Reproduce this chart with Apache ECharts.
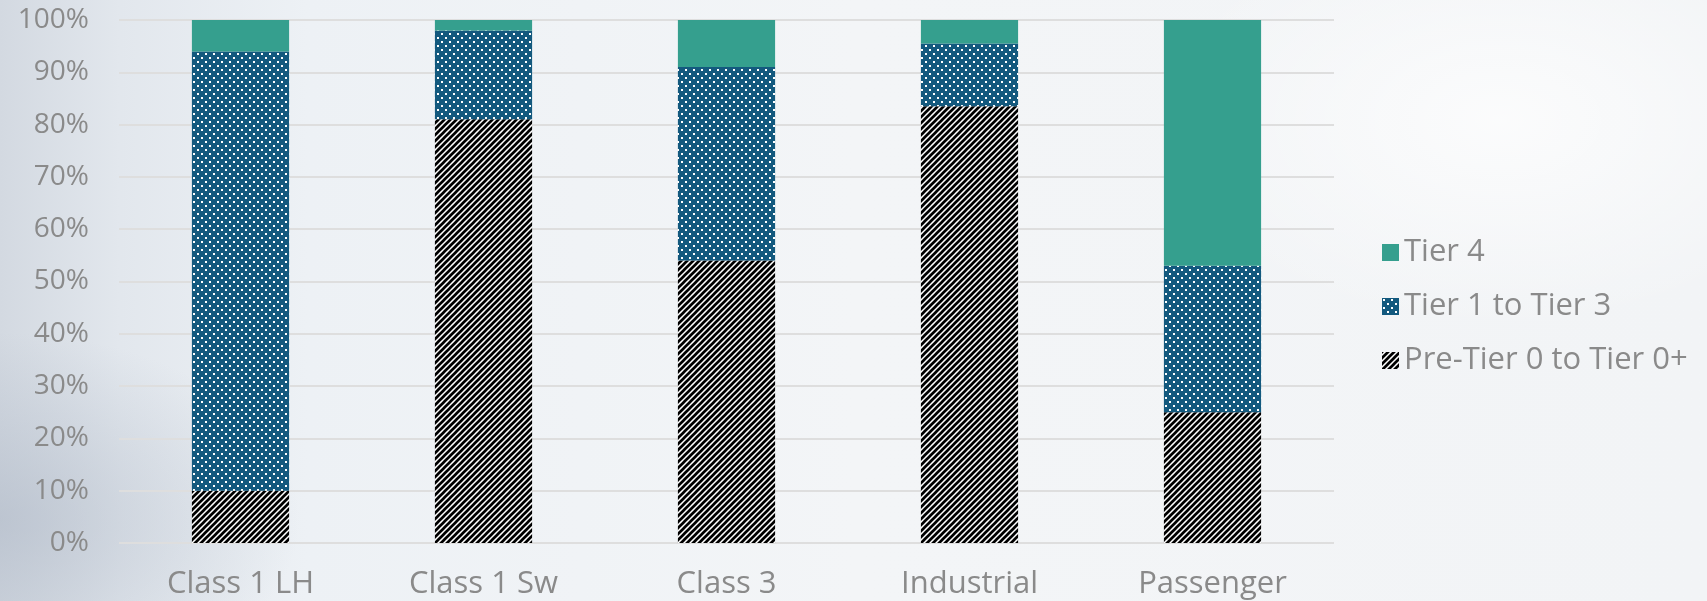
<!DOCTYPE html>
<html>
<head>
<meta charset="utf-8">
<script src="https://cdn.jsdelivr.net/npm/echarts@6/dist/echarts.min.js"></script>
<style>
html,body{margin:0;padding:0;width:1707px;height:601px;overflow:hidden;}
body{background:
 radial-gradient(ellipse 500px 300px at 1500px 120px, rgba(255,255,255,0.7), rgba(255,255,255,0) 70%),
 radial-gradient(ellipse 400px 250px at 0px 520px, rgba(170,180,195,0.55), rgba(170,180,195,0) 75%),
 linear-gradient(to right, #d3d9e1 0%, #e2e7ed 7%, #edf1f5 18%, #f3f5f7 50%, #f2f4f6 100%);}
#chart{width:1707px;height:601px;}
</style>
</head>
<body>
<div id="chart"></div>
<script>
const categories = ['Class 1 LH', 'Class 1 Sw', 'Class 3', 'Industrial', 'Passenger'];
const preTier0 = [10, 81, 54, 83.5, 25];
const tier1to3 = [84, 17, 37, 12, 28];
const tier4 = [6, 2, 9, 4.5, 47];
const yTicks = [0, 10, 20, 30, 40, 50, 60, 70, 80, 90, 100];

function dotPattern() {
  const c = document.createElement('canvas');
  c.width = 8; c.height = 8;
  const g = c.getContext('2d');
  g.fillStyle = '#13597e';
  g.fillRect(0, 0, 8, 8);
  g.fillStyle = '#ffffff';
  g.fillRect(1, 1, 2, 2);
  g.fillRect(5, 5, 2, 2);
  return c;
}
function stripePattern() {
  const c = document.createElement('canvas');
  c.width = 6; c.height = 6;
  const g = c.getContext('2d');
  g.fillStyle = '#ffffff';
  g.fillRect(0, 0, 6, 6);
  g.strokeStyle = '#000000';
  g.lineWidth = 2.7;
  g.beginPath();
  g.moveTo(-1, 7); g.lineTo(7, -1);
  g.moveTo(-4, 4); g.lineTo(4, -4);
  g.moveTo(2, 10); g.lineTo(10, 2);
  g.stroke();
  return c;
}

const font = '"Open Sans", "Noto Sans", sans-serif';
const gray = '#8a8a8a';
const chart = echarts.init(document.getElementById('chart'), null, {renderer: 'canvas'});
chart.setOption({
  backgroundColor: 'transparent',
  animation: false,
  textStyle: {fontFamily: font},
  grid: {left: 119, right: 373, top: 20, bottom: 58},
  legend: {
    orient: 'vertical',
    left: 1377,
    top: 232,
    icon: 'rect',
    itemWidth: 17,
    itemHeight: 17,
    itemGap: 23,
    data: ['Tier 4', 'Tier 1 to Tier 3', 'Pre-Tier 0 to Tier 0+'],
    textStyle: {color: gray, fontSize: 31, lineHeight: 30, fontFamily: font}
  },
  xAxis: {
    type: 'category',
    data: categories,
    axisLine: {show: false},
    axisTick: {show: false},
    axisLabel: {color: gray, fontSize: 31, margin: 26, fontFamily: font}
  },
  yAxis: {
    type: 'value',
    min: 0, max: 100, interval: 10,
    axisLine: {show: false},
    axisTick: {show: false},
    splitLine: {lineStyle: {color: '#dedede', width: 2}},
    axisLabel: {
      color: gray, fontSize: 28, margin: 30, fontFamily: font,
      formatter: function (v) { return yTicks.indexOf(v) >= 0 ? v + '%' : ''; }
    }
  },
  series: [
    {name: 'Pre-Tier 0 to Tier 0+', type: 'bar', stack: 's', barWidth: '40%',
     itemStyle: {color: {image: stripePattern(), repeat: 'repeat'}}, data: preTier0},
    {name: 'Tier 1 to Tier 3', type: 'bar', stack: 's', barWidth: '40%',
     itemStyle: {color: {image: dotPattern(), repeat: 'repeat'}}, data: tier1to3},
    {name: 'Tier 4', type: 'bar', stack: 's', barWidth: '40%',
     itemStyle: {color: '#359f8e'}, data: tier4}
  ]
});
</script>
</body>
</html>
